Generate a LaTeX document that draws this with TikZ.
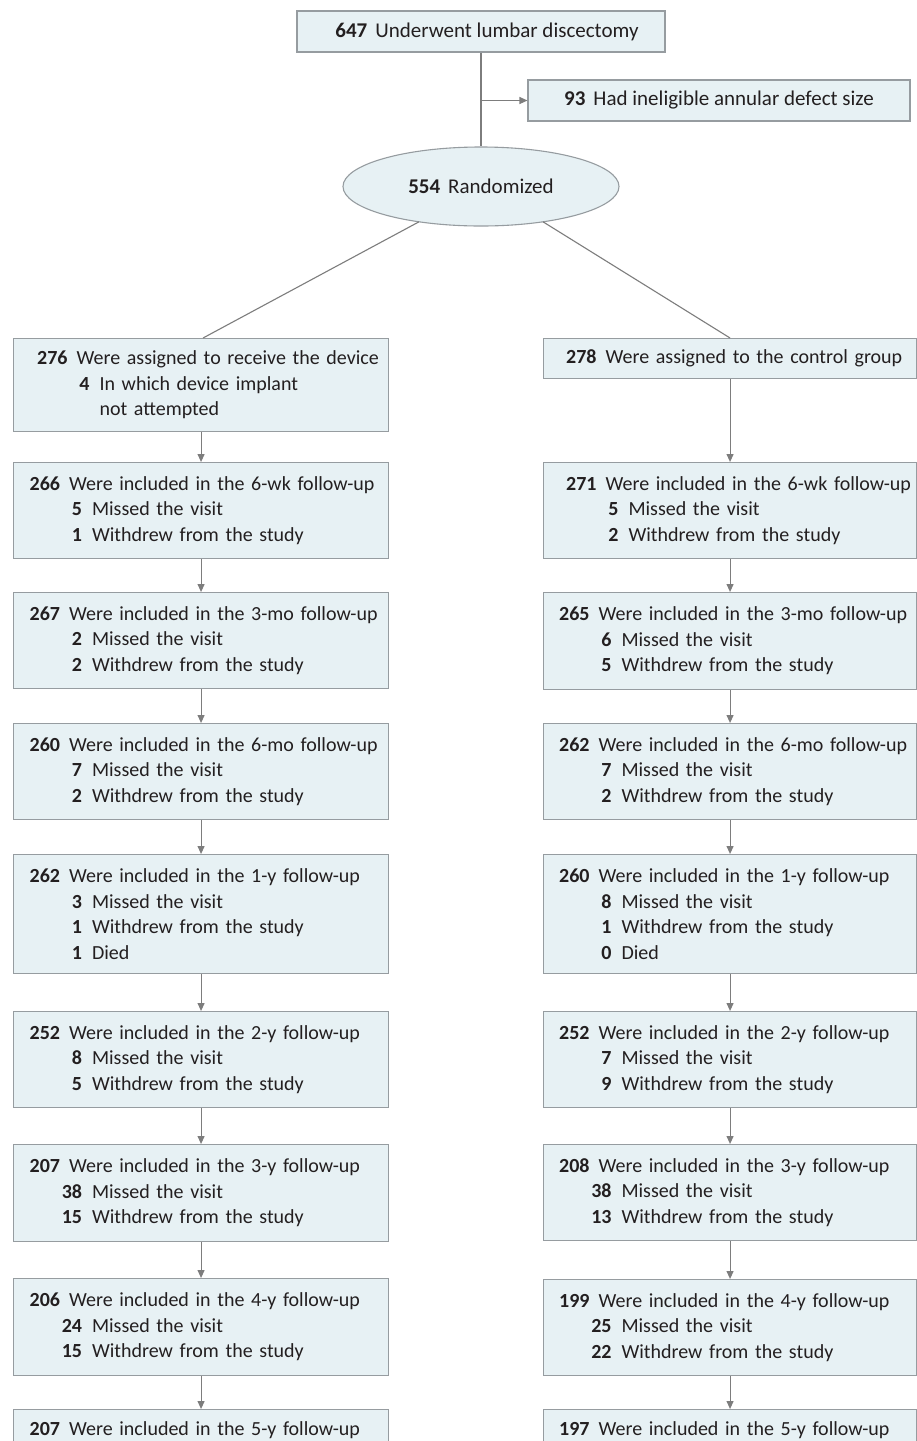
\documentclass[tikz,border=0pt]{standalone}
\usepackage{fontspec}
\setmainfont{Carlito}
\usetikzlibrary{arrows.meta,shapes.geometric,calc}
\definecolor{boxfill}{RGB}{231,241,244}
\definecolor{boxline}{RGB}{150,156,160}
\definecolor{conn}{RGB}{125,125,125}
\definecolor{ink}{RGB}{35,31,32}
\newcommand{\mainln}[2]{\mbox{\makebox[34pt][r]{\textbf{#1}}\hspace{9pt}#2}}
\newcommand{\subln}[2]{\mbox{\makebox[56pt][r]{\textbf{#1}}\hspace{10pt}#2}}
\tikzset{
  box/.style={draw=boxline, fill=boxfill, line width=1.1pt, rectangle, align=left,
    font=\fontsize{20pt}{25.5pt}\selectfont, text=ink, inner ysep=0pt},
  lbox/.style={box, anchor=north west, inner xsep=12.5pt, text width=350pt},
  rbox/.style={box, anchor=north west, inner xsep=12pt, text width=349pt},
  cbox/.style={box, align=center, font=\fontsize{21pt}{25.5pt}\selectfont},
  conn/.style={draw=conn, line width=1.1pt},
  arr/.style={conn, -{Triangle[length=8pt,width=7pt]}},
  cut/.style={text height=26pt, text depth=70pt}
}
\begin{document}
\begin{tikzpicture}[x=1pt,y=-1pt]
\useasboundingbox (0,0) rectangle (917,1441);
\clip (0,0) rectangle (917,1441);
\fill[white] (0,0) rectangle (917,1441);

\node[cbox, minimum width=368pt, minimum height=41pt] (top) at (481,31.5)
  {\hspace{12pt}\textbf{647}\hspace{8pt}Underwent lumbar discectomy};
\node[cbox, minimum width=382pt, minimum height=41pt] (side) at (719,100.5)
  {\textbf{93}\hspace{8pt}Had ineligible annular defect size};
\node[cbox, ellipse, minimum width=276pt, minimum height=79pt, inner sep=0pt] (rand) at (481,186.5)
  {\textbf{554}\hspace{8pt}Randomized};

% left column
\node[lbox, minimum height=93pt, inner xsep=20pt, text width=335pt] (L0) at (13,338)
  {\mainln{276}{Were assigned to receive the device}\\ \subln{4}{In which device implant}\\ \subln{}{not attempted}};
\node[lbox, minimum height=96pt] (L1) at (13,462)
  {\mainln{266}{Were included in the 6-wk follow-up}\\ \subln{5}{Missed the visit}\\ \subln{1}{Withdrew from the study}};
\node[lbox, minimum height=96pt] (L2) at (13,592)
  {\mainln{267}{Were included in the 3-mo follow-up}\\ \subln{2}{Missed the visit}\\ \subln{2}{Withdrew from the study}};
\node[lbox, minimum height=96pt] (L3) at (13,723)
  {\mainln{260}{Were included in the 6-mo follow-up}\\ \subln{7}{Missed the visit}\\ \subln{2}{Withdrew from the study}};
\node[lbox, minimum height=119pt] (L4) at (13,854)
  {\mainln{262}{Were included in the 1-y follow-up}\\ \subln{3}{Missed the visit}\\ \subln{1}{Withdrew from the study}\\ \subln{1}{Died}};
\node[lbox, minimum height=96pt] (L5) at (13,1011)
  {\mainln{252}{Were included in the 2-y follow-up}\\ \subln{8}{Missed the visit}\\ \subln{5}{Withdrew from the study}};
\node[lbox, minimum height=97pt] (L6) at (13,1144)
  {\mainln{207}{Were included in the 3-y follow-up}\\ \subln{38}{Missed the visit}\\ \subln{15}{Withdrew from the study}};
\node[lbox, minimum height=97pt] (L7) at (13,1278)
  {\mainln{206}{Were included in the 4-y follow-up}\\ \subln{24}{Missed the visit}\\ \subln{15}{Withdrew from the study}};
\node[lbox, cut] (L8) at (13,1409)
  {\mainln{207}{Were included in the 5-y follow-up}};

% right column
\node[rbox, minimum height=40pt, inner xsep=19pt, text width=335pt] (R0) at (543,338)
  {\mainln{278}{Were assigned to the control group}};
\node[rbox, minimum height=96pt, inner xsep=19pt, text width=335pt] (R1) at (543,462)
  {\mainln{271}{Were included in the 6-wk follow-up}\\ \subln{5}{Missed the visit}\\ \subln{2}{Withdrew from the study}};
\node[rbox, minimum height=97pt] (R2) at (543,592)
  {\mainln{265}{Were included in the 3-mo follow-up}\\ \subln{6}{Missed the visit}\\ \subln{5}{Withdrew from the study}};
\node[rbox, minimum height=96pt] (R3) at (543,723)
  {\mainln{262}{Were included in the 6-mo follow-up}\\ \subln{7}{Missed the visit}\\ \subln{2}{Withdrew from the study}};
\node[rbox, minimum height=119pt] (R4) at (543,854)
  {\mainln{260}{Were included in the 1-y follow-up}\\ \subln{8}{Missed the visit}\\ \subln{1}{Withdrew from the study}\\ \subln{0}{Died}};
\node[rbox, minimum height=96pt] (R5) at (543,1011)
  {\mainln{252}{Were included in the 2-y follow-up}\\ \subln{7}{Missed the visit}\\ \subln{9}{Withdrew from the study}};
\node[rbox, minimum height=96pt] (R6) at (543,1144)
  {\mainln{208}{Were included in the 3-y follow-up}\\ \subln{38}{Missed the visit}\\ \subln{13}{Withdrew from the study}};
\node[rbox, minimum height=96pt] (R7) at (543,1279)
  {\mainln{199}{Were included in the 4-y follow-up}\\ \subln{25}{Missed the visit}\\ \subln{22}{Withdrew from the study}};
\node[rbox, cut] (R8) at (543,1409)
  {\mainln{197}{Were included in the 5-y follow-up}};

% connectors
\draw[conn] (top.south) -- (rand.north);
\coordinate (br) at (top.south |- side.west);
\draw[arr] (br) -- (side.west);
\coordinate (rl) at ($(rand.center)+(-62,35.3)$);
\coordinate (rr) at ($(rand.center)+(62,35.3)$);
\draw[conn] (rl) -- ($(L0.north)+(2,0)$);
\draw[conn] (rr) -- (R0.north);
\foreach \a/\b in {L0/L1,L1/L2,L2/L3,L3/L4,L4/L5,L5/L6,L6/L7,L7/L8,
                   R0/R1,R1/R2,R2/R3,R3/R4,R4/R5,R5/R6,R6/R7,R7/R8}
  \draw[arr] (\a.south) -- (\b.north);
\end{tikzpicture}
\end{document}
